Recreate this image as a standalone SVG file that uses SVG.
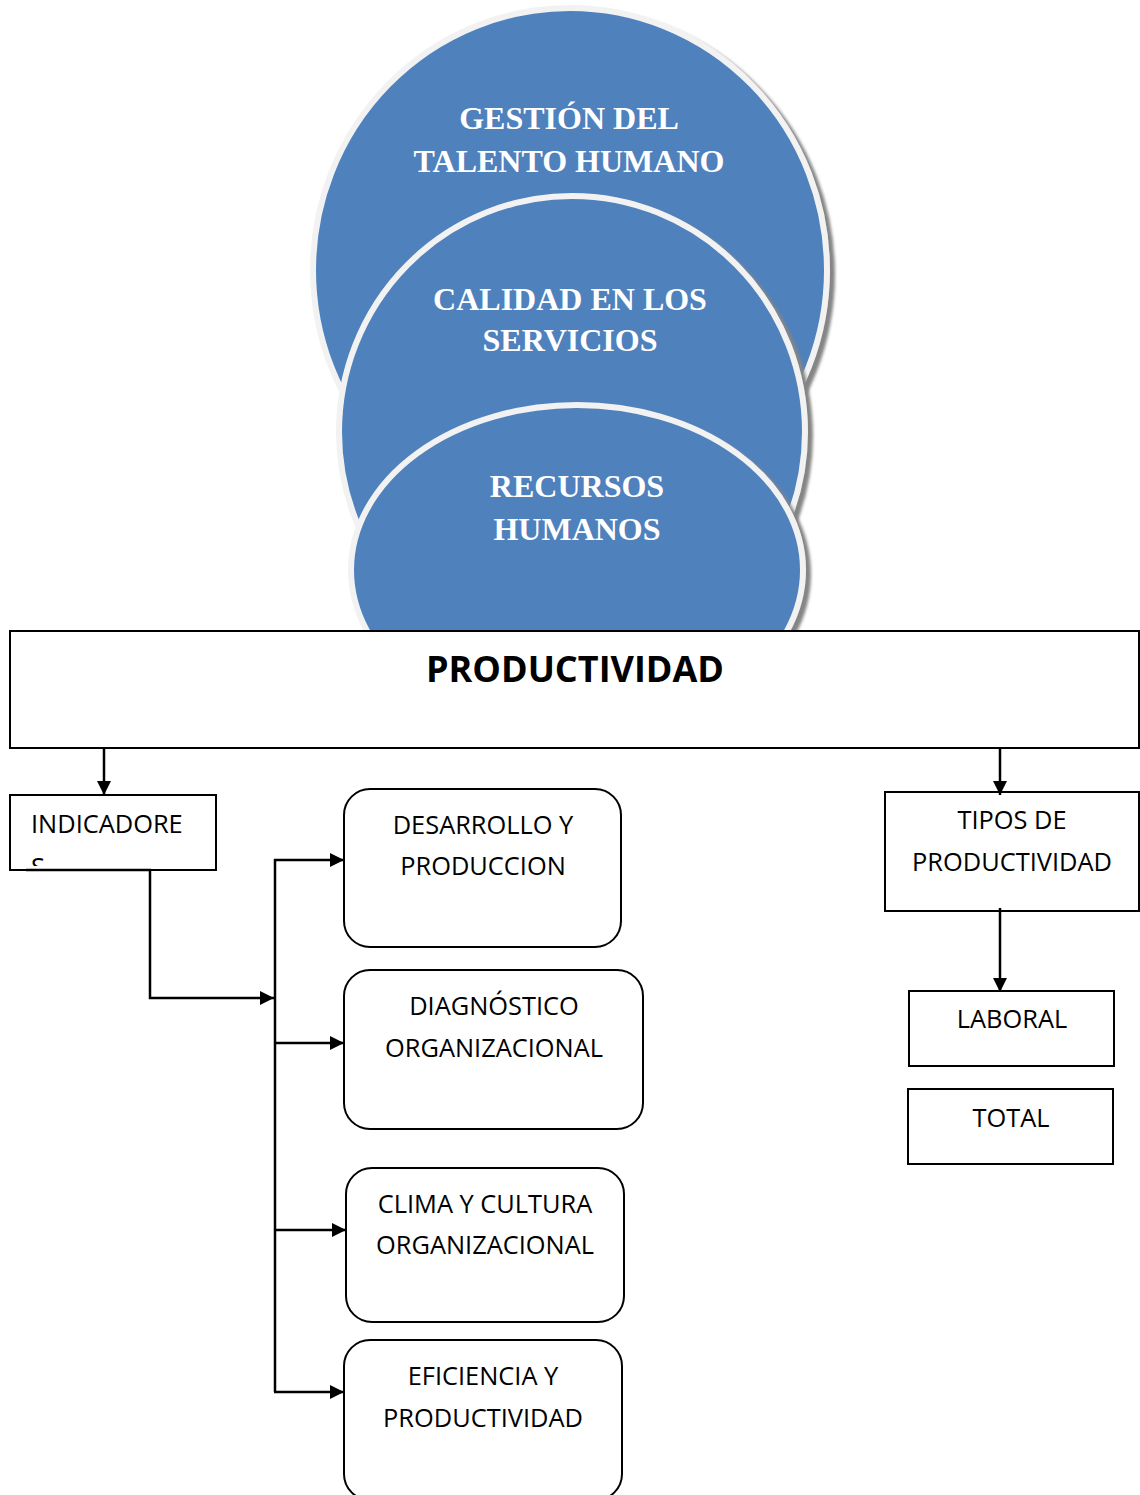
<svg xmlns="http://www.w3.org/2000/svg" width="1140" height="1495" viewBox="0 0 1140 1495">
  <defs>
    <filter id="shadow" x="-10%" y="-10%" width="125%" height="125%">
      <feGaussianBlur in="SourceAlpha" stdDeviation="1.5"/>
      <feOffset dx="5" dy="4" result="off"/>
      <feFlood flood-color="#858585"/>
      <feComposite in2="off" operator="in"/>
      <feMerge><feMergeNode/><feMergeNode in="SourceGraphic"/></feMerge>
    </filter>
    <marker id="arrow" viewBox="0 0 14 14" refX="14" refY="7" markerWidth="15" markerHeight="14" markerUnits="userSpaceOnUse" orient="auto">
      <path d="M0,0 L14,7 L0,14 Z" fill="#000"/>
    </marker>
    <clipPath id="indClip"><rect x="10" y="795" width="206" height="71"/></clipPath>
  </defs>
  <style>
    .bubble { fill: #4F81BD; stroke: #F2F2F2; stroke-width: 6; filter: url(#shadow); }
    .btxt { font-family: "Liberation Serif", "Times New Roman", serif; font-weight: bold; font-size: 32px; fill: #fff; text-anchor: middle; }
    .box { fill: #fff; stroke: #000; stroke-width: 2; }
    .txt { font-family: "Open Sans", "Liberation Sans", sans-serif; font-size: 25.4px; fill: #000; }
    .mid { text-anchor: middle; }
    .title { font-family: "Open Sans", "Liberation Sans", sans-serif; font-weight: bold; font-size: 36px; fill: #000; text-anchor: middle; }
    .conn { fill: none; stroke: #000; stroke-width: 2.5; }
  </style>

  <!-- stacked bubbles -->
  <g id="gestion">
    <ellipse class="bubble" cx="570" cy="270" rx="257" ry="262"/>
    <text class="btxt" x="569" y="129">GESTIÓN DEL</text>
    <text class="btxt" x="569" y="172">TALENTO HUMANO</text>
  </g>
  <g id="calidad">
    <ellipse class="bubble" cx="572" cy="432" rx="233" ry="236"/>
    <text class="btxt" x="570" y="310">CALIDAD EN LOS</text>
    <text class="btxt" x="570" y="351">SERVICIOS</text>
  </g>
  <g id="recursos">
    <ellipse class="bubble" cx="577" cy="570" rx="226" ry="165"/>
    <text class="btxt" x="577" y="497">RECURSOS</text>
    <text class="btxt" x="577" y="540">HUMANOS</text>
  </g>

  <g id="productividad">
    <rect class="box" x="10" y="631" width="1129" height="117"/>
    <text class="title" x="575" y="682">PRODUCTIVIDAD</text>
  </g>

  <g id="indicadores">
    <rect class="box" x="10" y="795" width="206" height="75"/>
    <g clip-path="url(#indClip)">
      <text class="txt" x="31" y="833">INDICADORE</text>
      <text class="txt" x="31" y="876">S</text>
    </g>
  </g>

  <g id="desarrollo">
    <rect class="box" x="344" y="789" width="277" height="158" rx="26"/>
    <text class="txt mid" x="483" y="834">DESARROLLO Y</text>
    <text class="txt mid" x="483" y="875">PRODUCCION</text>
  </g>
  <g id="diagnostico">
    <rect class="box" x="344" y="970" width="299" height="159" rx="26"/>
    <text class="txt mid" x="494" y="1015">DIAGNÓSTICO</text>
    <text class="txt mid" x="494" y="1057">ORGANIZACIONAL</text>
  </g>
  <g id="clima">
    <rect class="box" x="346" y="1168" width="278" height="154" rx="26"/>
    <text class="txt mid" x="485" y="1213">CLIMA Y CULTURA</text>
    <text class="txt mid" x="485" y="1254">ORGANIZACIONAL</text>
  </g>
  <g id="eficiencia">
    <rect class="box" x="344" y="1340" width="278" height="160" rx="26"/>
    <text class="txt mid" x="483" y="1385">EFICIENCIA Y</text>
    <text class="txt mid" x="483" y="1427">PRODUCTIVIDAD</text>
  </g>

  <g id="tipos">
    <rect class="box" x="885" y="792" width="254" height="119"/>
    <text class="txt mid" x="1012" y="829">TIPOS DE</text>
    <text class="txt mid" x="1012" y="871">PRODUCTIVIDAD</text>
  </g>
  <g id="laboral">
    <rect class="box" x="909" y="991" width="205" height="75"/>
    <text class="txt mid" x="1012" y="1028">LABORAL</text>
  </g>
  <g id="total">
    <rect class="box" x="908" y="1089" width="205" height="75"/>
    <text class="txt mid" x="1011" y="1127">TOTAL</text>
  </g>

  <!-- connectors -->
  <g id="connectors">
    <line class="conn" x1="104" y1="748" x2="104" y2="795" marker-end="url(#arrow)"/>
    <line class="conn" x1="1000" y1="748" x2="1000" y2="795" marker-end="url(#arrow)"/>
    <line class="conn" x1="1000" y1="908" x2="1000" y2="992" marker-end="url(#arrow)"/>
    <polyline class="conn" points="26,870 150,870 150,998 274,998" marker-end="url(#arrow)"/>
    <line class="conn" x1="275" y1="859" x2="275" y2="1392"/>
    <line class="conn" x1="274" y1="860" x2="344" y2="860" marker-end="url(#arrow)"/>
    <line class="conn" x1="274" y1="1043" x2="344" y2="1043" marker-end="url(#arrow)"/>
    <line class="conn" x1="274" y1="1230" x2="346" y2="1230" marker-end="url(#arrow)"/>
    <line class="conn" x1="274" y1="1392" x2="344" y2="1392" marker-end="url(#arrow)"/>
  </g>
</svg>
